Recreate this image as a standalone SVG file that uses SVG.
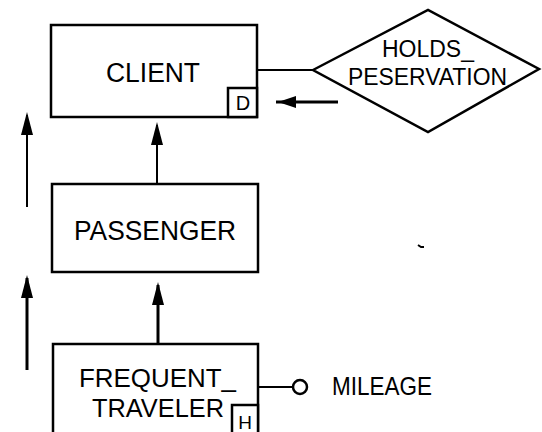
<svg xmlns="http://www.w3.org/2000/svg" width="542" height="432" viewBox="0 0 542 432">
<defs>
<style>
.box{fill:#fff;stroke:#000;stroke-width:2.5}
.ln{stroke:#000;stroke-width:2;fill:none}
.thk{stroke:#000;stroke-width:3;fill:none}
.t{font-family:"Liberation Sans",Arial,sans-serif;fill:#000}
.head{fill:#000}
</style>
</defs>
<rect width="542" height="432" fill="#fff"/>
<g id="connectors">
<line class="ln" x1="257" y1="70" x2="313" y2="70"/>
<line class="thk" x1="338" y1="102" x2="276" y2="102"/>
<polygon class="head" points="278,102 296,96 296,108"/>
<line class="ln" x1="157" y1="184" x2="157" y2="125"/>
<polygon class="head" points="157,122 151,145 163,145"/>
<line class="thk" x1="158" y1="344" x2="158" y2="285"/>
<polygon class="head" points="158,282 152,305 164,305"/>
<line class="ln" x1="27" y1="207" x2="27" y2="115"/>
<polygon class="head" points="27,112 21,135 33,135"/>
<line class="thk" x1="27" y1="370" x2="27" y2="278"/>
<polygon class="head" points="27,275 21,298 33,298"/>
<line class="ln" x1="258" y1="387" x2="293" y2="387"/>
</g>
<g id="client">
<rect class="box" x="51" y="25" width="206" height="92"/>
<text class="t" x="106" y="82" font-size="27" textLength="94" lengthAdjust="spacingAndGlyphs">CLIENT</text>
<rect class="box" x="228" y="88" width="29" height="29"/>
<text class="t" x="243" y="110" font-size="20" text-anchor="middle">D</text>
</g>
<g id="holds_reservation">
<polygon class="box" points="313,70 428,10 539,69 428,132"/>
<text class="t" x="382" y="57" font-size="23" textLength="92" lengthAdjust="spacingAndGlyphs">HOLDS_</text>
<text class="t" x="348" y="85" font-size="24" textLength="159" lengthAdjust="spacingAndGlyphs">PESERVATION</text>
</g>
<g id="passenger">
<rect class="box" x="52" y="184" width="206" height="88"/>
<text class="t" x="74" y="240" font-size="27" textLength="162" lengthAdjust="spacingAndGlyphs">PASSENGER</text>
</g>
<g id="frequent_traveler">
<rect class="box" x="53" y="344" width="205" height="100"/>
<text class="t" x="79" y="387" font-size="25" textLength="157" lengthAdjust="spacingAndGlyphs">FREQUENT_</text>
<text class="t" x="92" y="417" font-size="25" textLength="132" lengthAdjust="spacingAndGlyphs">TRAVELER</text>
<rect class="box" x="232" y="405" width="26" height="35"/>
<text class="t" x="245" y="429" font-size="19" text-anchor="middle">H</text>
</g>
<g id="mileage">
<circle cx="300" cy="387" r="7" fill="#fff" stroke="#000" stroke-width="2.5"/>
<text class="t" x="332" y="395" font-size="25" textLength="100" lengthAdjust="spacingAndGlyphs">MILEAGE</text>
</g>
<path d="M418,245 l3,2 l3,0" stroke="#000" stroke-width="2" fill="none"/>
</svg>
